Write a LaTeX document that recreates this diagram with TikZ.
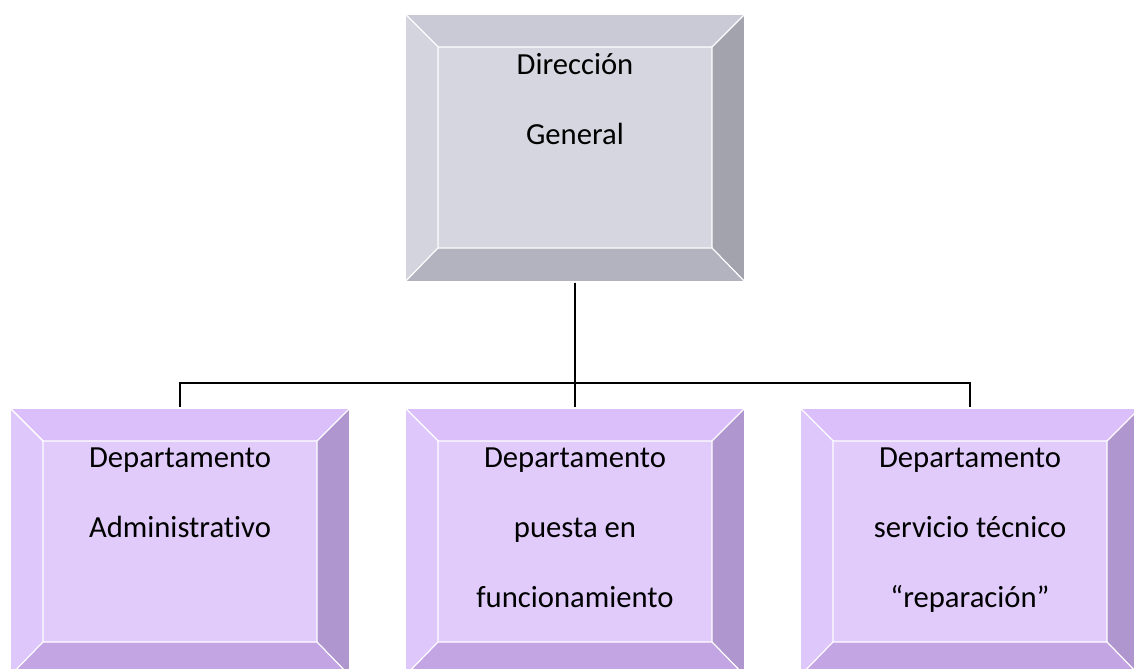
\documentclass[tikz,border=0pt]{standalone}
\usepackage{fontspec}
\setmainfont{Carlito}[Ligatures=NoCommon]
\usetikzlibrary{trees}

\definecolor{gface}{HTML}{D6D6E0}
\definecolor{gtop}{HTML}{CACAD6}
\definecolor{gleft}{HTML}{D4D4DE}
\definecolor{gright}{HTML}{A3A3AE}
\definecolor{gbot}{HTML}{B3B3C0}
\definecolor{pface}{HTML}{E0CBFB}
\definecolor{ptop}{HTML}{DABFFA}
\definecolor{pleft}{HTML}{DEC7FB}
\definecolor{pright}{HTML}{B096CE}
\definecolor{pbot}{HTML}{C3A5E4}

\begin{document}
\begin{tikzpicture}
    [x=0.75pt, y=0.75pt,
      level distance=295.5pt, sibling distance=296.25pt,
      edge from parent/.style={draw, black, line width=1.5pt},
      edge from parent path={(\tikzparentnode.south) -- +(0,-75pt) -| (\tikzchildnode.north)},
      facet/.style={draw=white, line width=0.8pt},
      bevel/.style n args={5}{rectangle, inner sep=0, minimum width=255pt, minimum height=201pt,
        fill=#1, draw=white, line width=0.8pt,
        path picture={
          \path (path picture bounding box.north west) coordinate (o1)
                (path picture bounding box.north east) coordinate (o2)
                (path picture bounding box.south east) coordinate (o3)
                (path picture bounding box.south west) coordinate (o4)
                ([shift={(24.75pt,-24.75pt)}]o1) coordinate (i1)
                ([shift={(-24.75pt,-24.75pt)}]o2) coordinate (i2)
                ([shift={(-24.75pt,25.5pt)}]o3) coordinate (i3)
                ([shift={(24.75pt,25.5pt)}]o4) coordinate (i4);
          \filldraw[facet, fill=#2] (o1) -- (o2) -- (i2) -- (i1) -- cycle;
          \filldraw[facet, fill=#3] (o1) -- (i1) -- (i4) -- (o4) -- cycle;
          \filldraw[facet, fill=#4] (o2) -- (o3) -- (i3) -- (i2) -- cycle;
          \filldraw[facet, fill=#5] (o4) -- (i4) -- (i3) -- (o3) -- cycle;
        }},
      dirbox/.style={bevel={gface}{gtop}{gleft}{gright}{gbot}},
      deptbox/.style={bevel={pface}{ptop}{pleft}{pright}{pbot}},
      lbl/.style={anchor=north, yshift=-30pt, align=center, inner sep=0,
        font=\fontsize{23}{52.5}\selectfont}]
    \node[dirbox, label={[lbl]90:{Dirección\\General}}] (dg) at (575,520) {}
      child {node[deptbox, label={[lbl]90:{Departamento\\Administrativo}}] (da) {}}
      child {node[deptbox, label={[lbl]90:{Departamento\\puesta en\\funcionamiento}}] (dp) {}}
      child {node[deptbox, label={[lbl]90:{Departamento\\servicio técnico\\“reparación”}}] (dt) {}};
    % page size of the reference
    \pgfresetboundingbox
    \useasboundingbox (0,0) rectangle (1134,668);
  \end{tikzpicture}
\end{document}
